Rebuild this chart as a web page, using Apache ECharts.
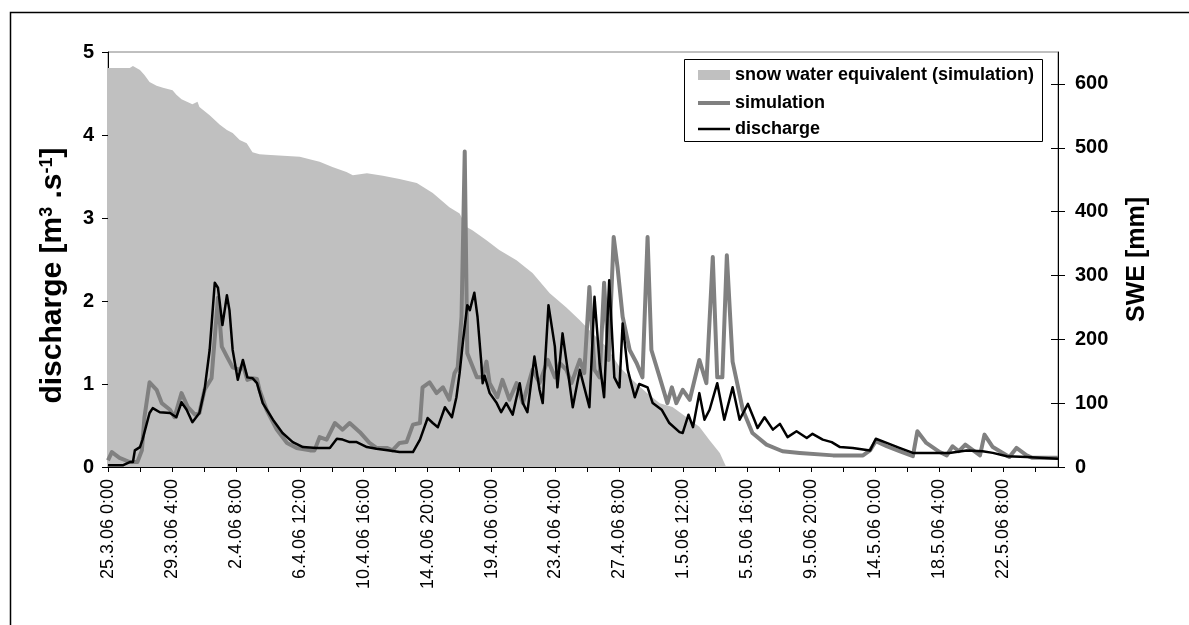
<!DOCTYPE html>
<html><head><meta charset="utf-8">
<script src="https://cdn.jsdelivr.net/npm/echarts@6/dist/echarts.min.js"></script>
<style>html,body{margin:0;padding:0;background:#fff}#c{width:1189px;height:625px}</style>
</head><body><div id="c"></div><script>
// x values are hours since 25.3.06 0:00
const tickLabels = ['25.3.06 0:00','29.3.06 4:00','2.4.06 8:00','6.4.06 12:00','10.4.06 16:00','14.4.06 20:00','19.4.06 0:00','23.4.06 4:00','27.4.06 8:00','1.5.06 12:00','5.5.06 16:00','9.5.06 20:00','14.5.06 0:00','18.5.06 4:00','22.5.06 8:00'];
const xMaxHours = 1486;

// snow water equivalent (simulation), mm, right axis
const swe = [[0,625],[34,625],[39,628],[50,622],[57,614],[65,603],[76,597],[86,594],[101,590],[107,583],[115,576],[132,568],[140,572],[143,564],[159,551],[175,536],[186,528],[195,523],[206,512],[217,507],[226,493],[237,490],[248,489],[300,486],[320,481],[331,478],[351,470],[373,462],[383,457],[405,460],[430,456],[456,451],[483,445],[508,429],[534,407],[550,397],[561,376],[570,371],[592,355],[612,340],[639,324],[664,304],[691,272],[717,250],[738,230],[758,209],[780,188],[800,157],[821,136],[843,116],[863,100],[883,94],[905,78],[925,63],[941,42],[957,22],[967,0],[1486,0]];

// simulated discharge, m3/s
const simulation = [[0,0.08],[6,0.18],[18,0.11],[34,0.06],[46,0.06],[53,0.2],[57,0.6],[65,1.02],[76,0.93],[84,0.77],[97,0.69],[104,0.6],[115,0.89],[125,0.72],[136,0.63],[143,0.65],[151,0.93],[162,1.07],[172,2.04],[178,1.45],[186,1.33],[195,1.2],[206,1.17],[211,1.23],[218,1.05],[226,1.07],[233,1.06],[237,0.93],[248,0.69],[264,0.45],[280,0.29],[295,0.23],[316,0.2],[323,0.2],[331,0.36],[342,0.33],[355,0.53],[367,0.45],[378,0.53],[394,0.42],[409,0.29],[420,0.23],[436,0.23],[445,0.2],[456,0.29],[467,0.3],[477,0.51],[488,0.53],[492,0.96],[503,1.02],[514,0.89],[524,0.96],[534,0.81],[542,1.13],[547,1.2],[553,1.81],[558,3.8],[562,1.37],[577,1.08],[586,1.08],[592,1.27],[597,1.01],[609,0.84],[617,1.05],[628,0.81],[639,1.01],[649,0.77],[664,1.17],[675,1.01],[688,1.29],[699,1.08],[707,1.25],[717,1.17],[725,1.01],[738,1.29],[745,1.13],[753,2.17],[761,1.17],[769,1.08],[776,2.22],[783,1.29],[791,2.77],[797,2.41],[805,1.81],[816,1.41],[827,1.25],[836,1.08],[844,2.77],[850,1.41],[863,1.08],[875,0.77],[882,0.96],[889,0.77],[899,0.93],[910,0.81],[925,1.29],[936,1.01],[946,2.53],[953,1.08],[961,1.08],[968,2.55],[977,1.27],[993,0.69],[1008,0.41],[1030,0.27],[1055,0.19],[1082,0.17],[1134,0.14],[1181,0.14],[1192,0.2],[1201,0.31],[1218,0.25],[1238,0.19],[1259,0.13],[1262,0.12],[1266,0.43],[1280,0.29],[1301,0.18],[1312,0.14],[1321,0.25],[1331,0.19],[1341,0.27],[1364,0.14],[1371,0.39],[1384,0.24],[1410,0.12],[1421,0.23],[1437,0.14],[1446,0.11],[1486,0.11]];

// measured discharge, m3/s
const discharge = [[0,0.02],[23,0.02],[34,0.06],[39,0.06],[42,0.2],[50,0.24],[54,0.33],[65,0.65],[70,0.71],[81,0.66],[97,0.65],[107,0.6],[115,0.78],[123,0.69],[132,0.54],[143,0.65],[151,0.93],[159,1.41],[167,2.22],[172,2.16],[179,1.71],[186,2.07],[190,1.89],[195,1.41],[203,1.05],[211,1.29],[218,1.08],[226,1.07],[233,1.01],[242,0.77],[258,0.57],[273,0.41],[289,0.3],[305,0.24],[326,0.23],[347,0.23],[358,0.34],[367,0.33],[378,0.3],[389,0.3],[405,0.24],[420,0.22],[440,0.2],[456,0.18],[477,0.18],[488,0.33],[500,0.59],[508,0.53],[516,0.48],[527,0.72],[538,0.6],[545,0.84],[550,1.13],[555,1.5],[562,1.95],[566,1.89],[569,1.87],[573,2.1],[578,1.81],[584,1.25],[586,1.01],[589,1.1],[597,0.89],[608,0.77],[615,0.66],[623,0.77],[633,0.63],[644,1.01],[649,0.77],[656,0.66],[667,1.33],[675,0.93],[680,0.77],[689,1.95],[699,1.45],[703,0.96],[711,1.61],[719,1.17],[727,0.72],[738,1.17],[745,0.96],[753,0.72],[761,2.05],[769,1.25],[776,0.84],[784,2.25],[792,1.08],[800,0.96],[805,1.73],[813,1.17],[824,0.84],[831,1.0],[844,0.96],[852,0.77],[866,0.69],[878,0.53],[894,0.42],[899,0.41],[908,0.63],[915,0.48],[925,0.89],[933,0.57],[941,0.69],[953,1.01],[964,0.57],[977,0.96],[988,0.57],[1001,0.76],[1011,0.57],[1016,0.47],[1027,0.6],[1040,0.45],[1051,0.52],[1063,0.36],[1077,0.43],[1093,0.35],[1102,0.4],[1118,0.33],[1132,0.3],[1145,0.24],[1165,0.23],[1192,0.2],[1201,0.34],[1218,0.29],[1238,0.23],[1259,0.17],[1290,0.17],[1316,0.17],[1343,0.2],[1368,0.19],[1384,0.17],[1406,0.13],[1437,0.12],[1457,0.11],[1486,0.1]];

const leftTicks = [0,1,2,3,4,5];
const rightTicks = [0,100,200,300,400,500,600];

const FONT = '"Liberation Sans", Arial, sans-serif';
const chart = echarts.init(document.getElementById('c'), null, {renderer:'canvas'});
const legendText = {fontFamily: FONT, fontSize: 18, fontWeight: 'bold', color: '#000'};

chart.setOption({
  animation: false,
  backgroundColor: '#fff',
  grid: {left: 108, right: 131, top: 52, bottom: 158, show: true, borderColor: '#808080', borderWidth: 1, backgroundColor: '#fff', containLabel: false, outerBoundsMode: 'none'},
  graphic: [
    {type: 'rect', left: 8, top: 10, shape: {x: 0, y: 0, width: 1400, height: 900}, style: {fill: 'none', stroke: '#000', lineWidth: 1.5}, silent: true, z: -10},
    {type: 'rect', shape: {x: 684.5, y: 59.5, width: 358, height: 82}, style: {fill: '#fff', stroke: '#000', lineWidth: 1}, silent: true, z: 50}
  ],
  legend: [
    {data: ['snow water equivalent (simulation)'], left: 698, top: 66, icon: 'rect', itemWidth: 32, itemHeight: 10, padding: 0, selectedMode: false, textStyle: legendText, itemStyle: {borderWidth: 0}, z: 60},
    {data: ['simulation'], left: 698, top: 94, icon: 'rect', itemWidth: 32, itemHeight: 4, padding: 0, selectedMode: false, textStyle: legendText, itemStyle: {borderWidth: 0}, z: 60},
    {data: ['discharge'], left: 698, top: 120, icon: 'rect', itemWidth: 32, itemHeight: 2.5, padding: 0, selectedMode: false, textStyle: legendText, itemStyle: {borderWidth: 0}, z: 60}
  ],
  xAxis: {
    type: 'value', min: 0, max: xMaxHours, interval: 50,
    axisLine: {show: true, lineStyle: {color: '#000', width: 1}},
    axisTick: {show: true, inside: false, length: 5, lineStyle: {color: '#000'}},
    splitLine: {show: false},
    axisLabel: {
      rotate: 90, margin: 12, fontFamily: FONT, fontSize: 18, color: '#000',
      showMinLabel: true, showMaxLabel: false,
      formatter: v => (v % 100 === 0 && tickLabels[v / 100]) ? tickLabels[v / 100] : ''
    }
  },
  yAxis: [
    {
      type: 'value', min: 0, max: 5, interval: 1, position: 'left',
      name: '{t|discharge [m}{s|3}{t| .s}{s|-1}{t|]}', nameLocation: 'middle', nameRotate: 90, nameGap: 40,
      nameTextStyle: {padding: [0, 32, 0, 0], rich: {
        t: {fontFamily: FONT, fontSize: 30, fontWeight: 'bold', color: '#000'},
        s: {fontFamily: FONT, fontSize: 18, fontWeight: 'bold', color: '#000', verticalAlign: 'top'}
      }},
      axisLine: {show: true, lineStyle: {color: '#000'}},
      axisTick: {show: true, length: 6, lineStyle: {color: '#000'}},
      splitLine: {show: false},
      axisLabel: {fontFamily: FONT, fontSize: 20, fontWeight: 'bold', color: '#000', margin: 14}
    },
    {
      type: 'value', min: 0, max: 650, interval: 100, position: 'right',
      name: 'SWE [mm]', nameLocation: 'middle', nameRotate: 90, nameGap: 67,
      nameTextStyle: {fontFamily: FONT, fontSize: 25, fontWeight: 'bold', color: '#000'},
      axisLine: {show: true, lineStyle: {color: '#000'}},
      axisTick: {show: true, length: 7, customValues: rightTicks, lineStyle: {color: '#000'}},
      splitLine: {show: false},
      axisLabel: {customValues: rightTicks, fontFamily: FONT, fontSize: 20, fontWeight: 'bold', color: '#000', margin: 17}
    },
    {
      type: 'value', min: 0, max: 650, interval: 100, position: 'right',
      axisLine: {show: false},
      axisTick: {show: true, inside: true, length: 7, customValues: rightTicks, lineStyle: {color: '#000'}},
      splitLine: {show: false},
      axisLabel: {show: false}
    }
  ],
  series: [
    {
      name: 'snow water equivalent (simulation)', type: 'line', yAxisIndex: 1, data: swe,
      symbol: 'none', showSymbol: false, color: '#C0C0C0',
      lineStyle: {width: 0, color: '#C0C0C0'},
      areaStyle: {color: '#C0C0C0', opacity: 1}, z: 1
    },
    {
      name: 'simulation', type: 'line', yAxisIndex: 0, data: simulation,
      symbol: 'none', showSymbol: false, color: '#808080',
      lineStyle: {width: 4, color: '#808080', join: 'round'}, z: 2
    },
    {
      name: 'discharge', type: 'line', yAxisIndex: 0, data: discharge,
      symbol: 'none', showSymbol: false, color: '#000',
      lineStyle: {width: 2.5, color: '#000', join: 'round'}, z: 3
    }
  ]
});
</script></body></html>
